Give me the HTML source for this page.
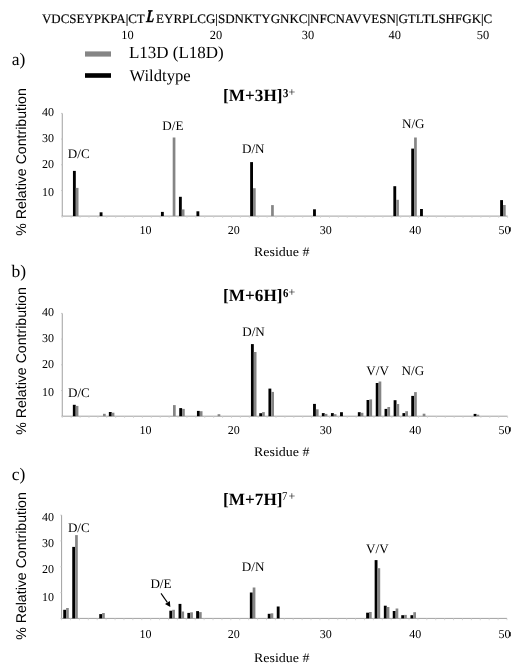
<!DOCTYPE html>
<html><head><meta charset="utf-8"><style>
html,body{margin:0;padding:0;background:#fff;}
body{width:526px;height:672px;position:relative;overflow:hidden;color:#000;text-rendering:geometricPrecision;}
</style></head><body>
<svg width="526" height="672" style="position:absolute;left:0;top:0">
<line x1="62.25" y1="113.4" x2="62.25" y2="216.1" stroke="#a0a0a0" stroke-width="1"/>
<line x1="61.05" y1="216.10" x2="62.25" y2="216.10" stroke="#c4c4c4" stroke-width="0.9"/>
<line x1="61.05" y1="190.43" x2="62.25" y2="190.43" stroke="#c4c4c4" stroke-width="0.9"/>
<line x1="61.05" y1="164.75" x2="62.25" y2="164.75" stroke="#c4c4c4" stroke-width="0.9"/>
<line x1="61.05" y1="139.07" x2="62.25" y2="139.07" stroke="#c4c4c4" stroke-width="0.9"/>
<line x1="61.05" y1="113.40" x2="62.25" y2="113.40" stroke="#c4c4c4" stroke-width="0.9"/>
<line x1="62.25" y1="216.1" x2="507.6" y2="216.1" stroke="#a0a0a0" stroke-width="1"/>
<line x1="62.25" y1="216.1" x2="62.25" y2="217.9" stroke="#d0d0d0" stroke-width="0.8"/>
<line x1="71.16" y1="216.1" x2="71.16" y2="217.9" stroke="#d0d0d0" stroke-width="0.8"/>
<line x1="80.06" y1="216.1" x2="80.06" y2="217.9" stroke="#d0d0d0" stroke-width="0.8"/>
<line x1="88.97" y1="216.1" x2="88.97" y2="217.9" stroke="#d0d0d0" stroke-width="0.8"/>
<line x1="97.88" y1="216.1" x2="97.88" y2="217.9" stroke="#d0d0d0" stroke-width="0.8"/>
<line x1="106.78" y1="216.1" x2="106.78" y2="217.9" stroke="#d0d0d0" stroke-width="0.8"/>
<line x1="115.69" y1="216.1" x2="115.69" y2="217.9" stroke="#d0d0d0" stroke-width="0.8"/>
<line x1="124.60" y1="216.1" x2="124.60" y2="217.9" stroke="#d0d0d0" stroke-width="0.8"/>
<line x1="133.51" y1="216.1" x2="133.51" y2="217.9" stroke="#d0d0d0" stroke-width="0.8"/>
<line x1="142.41" y1="216.1" x2="142.41" y2="217.9" stroke="#d0d0d0" stroke-width="0.8"/>
<line x1="151.32" y1="216.1" x2="151.32" y2="217.9" stroke="#d0d0d0" stroke-width="0.8"/>
<line x1="160.23" y1="216.1" x2="160.23" y2="217.9" stroke="#d0d0d0" stroke-width="0.8"/>
<line x1="169.13" y1="216.1" x2="169.13" y2="217.9" stroke="#d0d0d0" stroke-width="0.8"/>
<line x1="178.04" y1="216.1" x2="178.04" y2="217.9" stroke="#d0d0d0" stroke-width="0.8"/>
<line x1="186.95" y1="216.1" x2="186.95" y2="217.9" stroke="#d0d0d0" stroke-width="0.8"/>
<line x1="195.85" y1="216.1" x2="195.85" y2="217.9" stroke="#d0d0d0" stroke-width="0.8"/>
<line x1="204.76" y1="216.1" x2="204.76" y2="217.9" stroke="#d0d0d0" stroke-width="0.8"/>
<line x1="213.67" y1="216.1" x2="213.67" y2="217.9" stroke="#d0d0d0" stroke-width="0.8"/>
<line x1="222.58" y1="216.1" x2="222.58" y2="217.9" stroke="#d0d0d0" stroke-width="0.8"/>
<line x1="231.48" y1="216.1" x2="231.48" y2="217.9" stroke="#d0d0d0" stroke-width="0.8"/>
<line x1="240.39" y1="216.1" x2="240.39" y2="217.9" stroke="#d0d0d0" stroke-width="0.8"/>
<line x1="249.30" y1="216.1" x2="249.30" y2="217.9" stroke="#d0d0d0" stroke-width="0.8"/>
<line x1="258.20" y1="216.1" x2="258.20" y2="217.9" stroke="#d0d0d0" stroke-width="0.8"/>
<line x1="267.11" y1="216.1" x2="267.11" y2="217.9" stroke="#d0d0d0" stroke-width="0.8"/>
<line x1="276.02" y1="216.1" x2="276.02" y2="217.9" stroke="#d0d0d0" stroke-width="0.8"/>
<line x1="284.93" y1="216.1" x2="284.93" y2="217.9" stroke="#d0d0d0" stroke-width="0.8"/>
<line x1="293.83" y1="216.1" x2="293.83" y2="217.9" stroke="#d0d0d0" stroke-width="0.8"/>
<line x1="302.74" y1="216.1" x2="302.74" y2="217.9" stroke="#d0d0d0" stroke-width="0.8"/>
<line x1="311.65" y1="216.1" x2="311.65" y2="217.9" stroke="#d0d0d0" stroke-width="0.8"/>
<line x1="320.55" y1="216.1" x2="320.55" y2="217.9" stroke="#d0d0d0" stroke-width="0.8"/>
<line x1="329.46" y1="216.1" x2="329.46" y2="217.9" stroke="#d0d0d0" stroke-width="0.8"/>
<line x1="338.37" y1="216.1" x2="338.37" y2="217.9" stroke="#d0d0d0" stroke-width="0.8"/>
<line x1="347.27" y1="216.1" x2="347.27" y2="217.9" stroke="#d0d0d0" stroke-width="0.8"/>
<line x1="356.18" y1="216.1" x2="356.18" y2="217.9" stroke="#d0d0d0" stroke-width="0.8"/>
<line x1="365.09" y1="216.1" x2="365.09" y2="217.9" stroke="#d0d0d0" stroke-width="0.8"/>
<line x1="374.00" y1="216.1" x2="374.00" y2="217.9" stroke="#d0d0d0" stroke-width="0.8"/>
<line x1="382.90" y1="216.1" x2="382.90" y2="217.9" stroke="#d0d0d0" stroke-width="0.8"/>
<line x1="391.81" y1="216.1" x2="391.81" y2="217.9" stroke="#d0d0d0" stroke-width="0.8"/>
<line x1="400.72" y1="216.1" x2="400.72" y2="217.9" stroke="#d0d0d0" stroke-width="0.8"/>
<line x1="409.62" y1="216.1" x2="409.62" y2="217.9" stroke="#d0d0d0" stroke-width="0.8"/>
<line x1="418.53" y1="216.1" x2="418.53" y2="217.9" stroke="#d0d0d0" stroke-width="0.8"/>
<line x1="427.44" y1="216.1" x2="427.44" y2="217.9" stroke="#d0d0d0" stroke-width="0.8"/>
<line x1="436.34" y1="216.1" x2="436.34" y2="217.9" stroke="#d0d0d0" stroke-width="0.8"/>
<line x1="445.25" y1="216.1" x2="445.25" y2="217.9" stroke="#d0d0d0" stroke-width="0.8"/>
<line x1="454.16" y1="216.1" x2="454.16" y2="217.9" stroke="#d0d0d0" stroke-width="0.8"/>
<line x1="463.06" y1="216.1" x2="463.06" y2="217.9" stroke="#d0d0d0" stroke-width="0.8"/>
<line x1="471.97" y1="216.1" x2="471.97" y2="217.9" stroke="#d0d0d0" stroke-width="0.8"/>
<line x1="480.88" y1="216.1" x2="480.88" y2="217.9" stroke="#d0d0d0" stroke-width="0.8"/>
<line x1="489.79" y1="216.1" x2="489.79" y2="217.9" stroke="#d0d0d0" stroke-width="0.8"/>
<line x1="498.69" y1="216.1" x2="498.69" y2="217.9" stroke="#d0d0d0" stroke-width="0.8"/>
<line x1="507.60" y1="216.1" x2="507.60" y2="217.9" stroke="#d0d0d0" stroke-width="0.8"/>
<rect x="72.95" y="170.90" width="2.85" height="45.20" fill="#000"/>
<rect x="75.80" y="187.90" width="2.7" height="28.20" fill="#858585"/>
<rect x="99.65" y="212.30" width="2.85" height="3.80" fill="#000"/>
<rect x="160.95" y="211.90" width="2.85" height="4.20" fill="#000"/>
<rect x="172.70" y="137.50" width="2.7" height="78.60" fill="#858585"/>
<rect x="178.95" y="196.80" width="2.85" height="19.30" fill="#000"/>
<rect x="181.80" y="209.40" width="2.7" height="6.70" fill="#858585"/>
<rect x="196.45" y="211.30" width="2.85" height="4.80" fill="#000"/>
<rect x="250.15" y="162.10" width="2.85" height="54.00" fill="#000"/>
<rect x="253.00" y="188.20" width="2.7" height="27.90" fill="#858585"/>
<rect x="271.10" y="205.10" width="2.7" height="11.00" fill="#858585"/>
<rect x="313.05" y="209.30" width="2.85" height="6.80" fill="#000"/>
<rect x="393.35" y="186.20" width="2.85" height="29.90" fill="#000"/>
<rect x="396.20" y="199.80" width="2.7" height="16.30" fill="#858585"/>
<rect x="411.25" y="148.60" width="2.85" height="67.50" fill="#000"/>
<rect x="414.10" y="137.50" width="2.7" height="78.60" fill="#858585"/>
<rect x="420.05" y="209.00" width="2.85" height="7.10" fill="#000"/>
<rect x="500.15" y="200.10" width="2.85" height="16.00" fill="#000"/>
<rect x="503.00" y="205.00" width="2.7" height="11.10" fill="#858585"/>
<line x1="62.25" y1="313.4" x2="62.25" y2="416.2" stroke="#a0a0a0" stroke-width="1"/>
<line x1="61.05" y1="416.20" x2="62.25" y2="416.20" stroke="#c4c4c4" stroke-width="0.9"/>
<line x1="61.05" y1="390.50" x2="62.25" y2="390.50" stroke="#c4c4c4" stroke-width="0.9"/>
<line x1="61.05" y1="364.80" x2="62.25" y2="364.80" stroke="#c4c4c4" stroke-width="0.9"/>
<line x1="61.05" y1="339.10" x2="62.25" y2="339.10" stroke="#c4c4c4" stroke-width="0.9"/>
<line x1="61.05" y1="313.40" x2="62.25" y2="313.40" stroke="#c4c4c4" stroke-width="0.9"/>
<line x1="62.25" y1="416.2" x2="507.6" y2="416.2" stroke="#a0a0a0" stroke-width="1"/>
<line x1="62.25" y1="416.2" x2="62.25" y2="418.0" stroke="#d0d0d0" stroke-width="0.8"/>
<line x1="71.16" y1="416.2" x2="71.16" y2="418.0" stroke="#d0d0d0" stroke-width="0.8"/>
<line x1="80.06" y1="416.2" x2="80.06" y2="418.0" stroke="#d0d0d0" stroke-width="0.8"/>
<line x1="88.97" y1="416.2" x2="88.97" y2="418.0" stroke="#d0d0d0" stroke-width="0.8"/>
<line x1="97.88" y1="416.2" x2="97.88" y2="418.0" stroke="#d0d0d0" stroke-width="0.8"/>
<line x1="106.78" y1="416.2" x2="106.78" y2="418.0" stroke="#d0d0d0" stroke-width="0.8"/>
<line x1="115.69" y1="416.2" x2="115.69" y2="418.0" stroke="#d0d0d0" stroke-width="0.8"/>
<line x1="124.60" y1="416.2" x2="124.60" y2="418.0" stroke="#d0d0d0" stroke-width="0.8"/>
<line x1="133.51" y1="416.2" x2="133.51" y2="418.0" stroke="#d0d0d0" stroke-width="0.8"/>
<line x1="142.41" y1="416.2" x2="142.41" y2="418.0" stroke="#d0d0d0" stroke-width="0.8"/>
<line x1="151.32" y1="416.2" x2="151.32" y2="418.0" stroke="#d0d0d0" stroke-width="0.8"/>
<line x1="160.23" y1="416.2" x2="160.23" y2="418.0" stroke="#d0d0d0" stroke-width="0.8"/>
<line x1="169.13" y1="416.2" x2="169.13" y2="418.0" stroke="#d0d0d0" stroke-width="0.8"/>
<line x1="178.04" y1="416.2" x2="178.04" y2="418.0" stroke="#d0d0d0" stroke-width="0.8"/>
<line x1="186.95" y1="416.2" x2="186.95" y2="418.0" stroke="#d0d0d0" stroke-width="0.8"/>
<line x1="195.85" y1="416.2" x2="195.85" y2="418.0" stroke="#d0d0d0" stroke-width="0.8"/>
<line x1="204.76" y1="416.2" x2="204.76" y2="418.0" stroke="#d0d0d0" stroke-width="0.8"/>
<line x1="213.67" y1="416.2" x2="213.67" y2="418.0" stroke="#d0d0d0" stroke-width="0.8"/>
<line x1="222.58" y1="416.2" x2="222.58" y2="418.0" stroke="#d0d0d0" stroke-width="0.8"/>
<line x1="231.48" y1="416.2" x2="231.48" y2="418.0" stroke="#d0d0d0" stroke-width="0.8"/>
<line x1="240.39" y1="416.2" x2="240.39" y2="418.0" stroke="#d0d0d0" stroke-width="0.8"/>
<line x1="249.30" y1="416.2" x2="249.30" y2="418.0" stroke="#d0d0d0" stroke-width="0.8"/>
<line x1="258.20" y1="416.2" x2="258.20" y2="418.0" stroke="#d0d0d0" stroke-width="0.8"/>
<line x1="267.11" y1="416.2" x2="267.11" y2="418.0" stroke="#d0d0d0" stroke-width="0.8"/>
<line x1="276.02" y1="416.2" x2="276.02" y2="418.0" stroke="#d0d0d0" stroke-width="0.8"/>
<line x1="284.93" y1="416.2" x2="284.93" y2="418.0" stroke="#d0d0d0" stroke-width="0.8"/>
<line x1="293.83" y1="416.2" x2="293.83" y2="418.0" stroke="#d0d0d0" stroke-width="0.8"/>
<line x1="302.74" y1="416.2" x2="302.74" y2="418.0" stroke="#d0d0d0" stroke-width="0.8"/>
<line x1="311.65" y1="416.2" x2="311.65" y2="418.0" stroke="#d0d0d0" stroke-width="0.8"/>
<line x1="320.55" y1="416.2" x2="320.55" y2="418.0" stroke="#d0d0d0" stroke-width="0.8"/>
<line x1="329.46" y1="416.2" x2="329.46" y2="418.0" stroke="#d0d0d0" stroke-width="0.8"/>
<line x1="338.37" y1="416.2" x2="338.37" y2="418.0" stroke="#d0d0d0" stroke-width="0.8"/>
<line x1="347.27" y1="416.2" x2="347.27" y2="418.0" stroke="#d0d0d0" stroke-width="0.8"/>
<line x1="356.18" y1="416.2" x2="356.18" y2="418.0" stroke="#d0d0d0" stroke-width="0.8"/>
<line x1="365.09" y1="416.2" x2="365.09" y2="418.0" stroke="#d0d0d0" stroke-width="0.8"/>
<line x1="374.00" y1="416.2" x2="374.00" y2="418.0" stroke="#d0d0d0" stroke-width="0.8"/>
<line x1="382.90" y1="416.2" x2="382.90" y2="418.0" stroke="#d0d0d0" stroke-width="0.8"/>
<line x1="391.81" y1="416.2" x2="391.81" y2="418.0" stroke="#d0d0d0" stroke-width="0.8"/>
<line x1="400.72" y1="416.2" x2="400.72" y2="418.0" stroke="#d0d0d0" stroke-width="0.8"/>
<line x1="409.62" y1="416.2" x2="409.62" y2="418.0" stroke="#d0d0d0" stroke-width="0.8"/>
<line x1="418.53" y1="416.2" x2="418.53" y2="418.0" stroke="#d0d0d0" stroke-width="0.8"/>
<line x1="427.44" y1="416.2" x2="427.44" y2="418.0" stroke="#d0d0d0" stroke-width="0.8"/>
<line x1="436.34" y1="416.2" x2="436.34" y2="418.0" stroke="#d0d0d0" stroke-width="0.8"/>
<line x1="445.25" y1="416.2" x2="445.25" y2="418.0" stroke="#d0d0d0" stroke-width="0.8"/>
<line x1="454.16" y1="416.2" x2="454.16" y2="418.0" stroke="#d0d0d0" stroke-width="0.8"/>
<line x1="463.06" y1="416.2" x2="463.06" y2="418.0" stroke="#d0d0d0" stroke-width="0.8"/>
<line x1="471.97" y1="416.2" x2="471.97" y2="418.0" stroke="#d0d0d0" stroke-width="0.8"/>
<line x1="480.88" y1="416.2" x2="480.88" y2="418.0" stroke="#d0d0d0" stroke-width="0.8"/>
<line x1="489.79" y1="416.2" x2="489.79" y2="418.0" stroke="#d0d0d0" stroke-width="0.8"/>
<line x1="498.69" y1="416.2" x2="498.69" y2="418.0" stroke="#d0d0d0" stroke-width="0.8"/>
<line x1="507.60" y1="416.2" x2="507.60" y2="418.0" stroke="#d0d0d0" stroke-width="0.8"/>
<rect x="72.85" y="404.80" width="2.85" height="11.40" fill="#000"/>
<rect x="75.70" y="405.90" width="2.7" height="10.30" fill="#858585"/>
<rect x="103.00" y="413.80" width="2.7" height="2.40" fill="#858585"/>
<rect x="108.85" y="412.00" width="2.85" height="4.20" fill="#000"/>
<rect x="111.70" y="412.70" width="2.7" height="3.50" fill="#858585"/>
<rect x="173.00" y="405.10" width="2.7" height="11.10" fill="#858585"/>
<rect x="179.25" y="408.10" width="2.85" height="8.10" fill="#000"/>
<rect x="182.10" y="408.90" width="2.7" height="7.30" fill="#858585"/>
<rect x="196.95" y="410.90" width="2.85" height="5.30" fill="#000"/>
<rect x="199.80" y="411.20" width="2.7" height="5.00" fill="#858585"/>
<rect x="217.60" y="414.20" width="2.7" height="2.00" fill="#858585"/>
<rect x="250.95" y="344.10" width="2.85" height="72.10" fill="#000"/>
<rect x="253.80" y="352.00" width="2.7" height="64.20" fill="#858585"/>
<rect x="259.25" y="413.20" width="2.85" height="3.00" fill="#000"/>
<rect x="262.10" y="412.10" width="2.7" height="4.10" fill="#858585"/>
<rect x="268.45" y="388.60" width="2.85" height="27.60" fill="#000"/>
<rect x="271.30" y="391.90" width="2.7" height="24.30" fill="#858585"/>
<rect x="313.05" y="403.90" width="2.85" height="12.30" fill="#000"/>
<rect x="315.90" y="409.30" width="2.7" height="6.90" fill="#858585"/>
<rect x="321.85" y="413.10" width="2.85" height="3.10" fill="#000"/>
<rect x="324.70" y="413.90" width="2.7" height="2.30" fill="#858585"/>
<rect x="330.95" y="413.10" width="2.85" height="3.10" fill="#000"/>
<rect x="333.80" y="414.20" width="2.7" height="2.00" fill="#858585"/>
<rect x="340.05" y="412.20" width="2.85" height="4.00" fill="#000"/>
<rect x="357.85" y="412.20" width="2.85" height="4.00" fill="#000"/>
<rect x="360.70" y="412.80" width="2.7" height="3.40" fill="#858585"/>
<rect x="366.55" y="400.00" width="2.85" height="16.20" fill="#000"/>
<rect x="369.40" y="399.40" width="2.7" height="16.80" fill="#858585"/>
<rect x="375.75" y="383.00" width="2.85" height="33.20" fill="#000"/>
<rect x="378.60" y="381.50" width="2.7" height="34.70" fill="#858585"/>
<rect x="384.55" y="408.90" width="2.85" height="7.30" fill="#000"/>
<rect x="387.40" y="407.00" width="2.7" height="9.20" fill="#858585"/>
<rect x="393.65" y="400.20" width="2.85" height="16.00" fill="#000"/>
<rect x="396.50" y="404.00" width="2.7" height="12.20" fill="#858585"/>
<rect x="402.45" y="413.10" width="2.85" height="3.10" fill="#000"/>
<rect x="405.30" y="411.20" width="2.7" height="5.00" fill="#858585"/>
<rect x="411.25" y="395.90" width="2.85" height="20.30" fill="#000"/>
<rect x="414.10" y="392.10" width="2.7" height="24.10" fill="#858585"/>
<rect x="422.70" y="413.70" width="2.7" height="2.50" fill="#858585"/>
<rect x="473.65" y="413.90" width="2.85" height="2.30" fill="#000"/>
<rect x="476.50" y="414.70" width="2.7" height="1.50" fill="#858585"/>
<line x1="61.6" y1="515.1" x2="61.6" y2="618.4" stroke="#a0a0a0" stroke-width="1"/>
<line x1="60.4" y1="618.40" x2="61.6" y2="618.40" stroke="#c4c4c4" stroke-width="0.9"/>
<line x1="60.4" y1="592.58" x2="61.6" y2="592.58" stroke="#c4c4c4" stroke-width="0.9"/>
<line x1="60.4" y1="566.75" x2="61.6" y2="566.75" stroke="#c4c4c4" stroke-width="0.9"/>
<line x1="60.4" y1="540.92" x2="61.6" y2="540.92" stroke="#c4c4c4" stroke-width="0.9"/>
<line x1="60.4" y1="515.10" x2="61.6" y2="515.10" stroke="#c4c4c4" stroke-width="0.9"/>
<line x1="61.6" y1="618.4" x2="507.0" y2="618.4" stroke="#a0a0a0" stroke-width="1"/>
<line x1="61.60" y1="618.4" x2="61.60" y2="620.1999999999999" stroke="#d0d0d0" stroke-width="0.8"/>
<line x1="70.51" y1="618.4" x2="70.51" y2="620.1999999999999" stroke="#d0d0d0" stroke-width="0.8"/>
<line x1="79.42" y1="618.4" x2="79.42" y2="620.1999999999999" stroke="#d0d0d0" stroke-width="0.8"/>
<line x1="88.32" y1="618.4" x2="88.32" y2="620.1999999999999" stroke="#d0d0d0" stroke-width="0.8"/>
<line x1="97.23" y1="618.4" x2="97.23" y2="620.1999999999999" stroke="#d0d0d0" stroke-width="0.8"/>
<line x1="106.14" y1="618.4" x2="106.14" y2="620.1999999999999" stroke="#d0d0d0" stroke-width="0.8"/>
<line x1="115.05" y1="618.4" x2="115.05" y2="620.1999999999999" stroke="#d0d0d0" stroke-width="0.8"/>
<line x1="123.96" y1="618.4" x2="123.96" y2="620.1999999999999" stroke="#d0d0d0" stroke-width="0.8"/>
<line x1="132.86" y1="618.4" x2="132.86" y2="620.1999999999999" stroke="#d0d0d0" stroke-width="0.8"/>
<line x1="141.77" y1="618.4" x2="141.77" y2="620.1999999999999" stroke="#d0d0d0" stroke-width="0.8"/>
<line x1="150.68" y1="618.4" x2="150.68" y2="620.1999999999999" stroke="#d0d0d0" stroke-width="0.8"/>
<line x1="159.59" y1="618.4" x2="159.59" y2="620.1999999999999" stroke="#d0d0d0" stroke-width="0.8"/>
<line x1="168.50" y1="618.4" x2="168.50" y2="620.1999999999999" stroke="#d0d0d0" stroke-width="0.8"/>
<line x1="177.40" y1="618.4" x2="177.40" y2="620.1999999999999" stroke="#d0d0d0" stroke-width="0.8"/>
<line x1="186.31" y1="618.4" x2="186.31" y2="620.1999999999999" stroke="#d0d0d0" stroke-width="0.8"/>
<line x1="195.22" y1="618.4" x2="195.22" y2="620.1999999999999" stroke="#d0d0d0" stroke-width="0.8"/>
<line x1="204.13" y1="618.4" x2="204.13" y2="620.1999999999999" stroke="#d0d0d0" stroke-width="0.8"/>
<line x1="213.04" y1="618.4" x2="213.04" y2="620.1999999999999" stroke="#d0d0d0" stroke-width="0.8"/>
<line x1="221.94" y1="618.4" x2="221.94" y2="620.1999999999999" stroke="#d0d0d0" stroke-width="0.8"/>
<line x1="230.85" y1="618.4" x2="230.85" y2="620.1999999999999" stroke="#d0d0d0" stroke-width="0.8"/>
<line x1="239.76" y1="618.4" x2="239.76" y2="620.1999999999999" stroke="#d0d0d0" stroke-width="0.8"/>
<line x1="248.67" y1="618.4" x2="248.67" y2="620.1999999999999" stroke="#d0d0d0" stroke-width="0.8"/>
<line x1="257.58" y1="618.4" x2="257.58" y2="620.1999999999999" stroke="#d0d0d0" stroke-width="0.8"/>
<line x1="266.48" y1="618.4" x2="266.48" y2="620.1999999999999" stroke="#d0d0d0" stroke-width="0.8"/>
<line x1="275.39" y1="618.4" x2="275.39" y2="620.1999999999999" stroke="#d0d0d0" stroke-width="0.8"/>
<line x1="284.30" y1="618.4" x2="284.30" y2="620.1999999999999" stroke="#d0d0d0" stroke-width="0.8"/>
<line x1="293.21" y1="618.4" x2="293.21" y2="620.1999999999999" stroke="#d0d0d0" stroke-width="0.8"/>
<line x1="302.12" y1="618.4" x2="302.12" y2="620.1999999999999" stroke="#d0d0d0" stroke-width="0.8"/>
<line x1="311.02" y1="618.4" x2="311.02" y2="620.1999999999999" stroke="#d0d0d0" stroke-width="0.8"/>
<line x1="319.93" y1="618.4" x2="319.93" y2="620.1999999999999" stroke="#d0d0d0" stroke-width="0.8"/>
<line x1="328.84" y1="618.4" x2="328.84" y2="620.1999999999999" stroke="#d0d0d0" stroke-width="0.8"/>
<line x1="337.75" y1="618.4" x2="337.75" y2="620.1999999999999" stroke="#d0d0d0" stroke-width="0.8"/>
<line x1="346.66" y1="618.4" x2="346.66" y2="620.1999999999999" stroke="#d0d0d0" stroke-width="0.8"/>
<line x1="355.56" y1="618.4" x2="355.56" y2="620.1999999999999" stroke="#d0d0d0" stroke-width="0.8"/>
<line x1="364.47" y1="618.4" x2="364.47" y2="620.1999999999999" stroke="#d0d0d0" stroke-width="0.8"/>
<line x1="373.38" y1="618.4" x2="373.38" y2="620.1999999999999" stroke="#d0d0d0" stroke-width="0.8"/>
<line x1="382.29" y1="618.4" x2="382.29" y2="620.1999999999999" stroke="#d0d0d0" stroke-width="0.8"/>
<line x1="391.20" y1="618.4" x2="391.20" y2="620.1999999999999" stroke="#d0d0d0" stroke-width="0.8"/>
<line x1="400.10" y1="618.4" x2="400.10" y2="620.1999999999999" stroke="#d0d0d0" stroke-width="0.8"/>
<line x1="409.01" y1="618.4" x2="409.01" y2="620.1999999999999" stroke="#d0d0d0" stroke-width="0.8"/>
<line x1="417.92" y1="618.4" x2="417.92" y2="620.1999999999999" stroke="#d0d0d0" stroke-width="0.8"/>
<line x1="426.83" y1="618.4" x2="426.83" y2="620.1999999999999" stroke="#d0d0d0" stroke-width="0.8"/>
<line x1="435.74" y1="618.4" x2="435.74" y2="620.1999999999999" stroke="#d0d0d0" stroke-width="0.8"/>
<line x1="444.64" y1="618.4" x2="444.64" y2="620.1999999999999" stroke="#d0d0d0" stroke-width="0.8"/>
<line x1="453.55" y1="618.4" x2="453.55" y2="620.1999999999999" stroke="#d0d0d0" stroke-width="0.8"/>
<line x1="462.46" y1="618.4" x2="462.46" y2="620.1999999999999" stroke="#d0d0d0" stroke-width="0.8"/>
<line x1="471.37" y1="618.4" x2="471.37" y2="620.1999999999999" stroke="#d0d0d0" stroke-width="0.8"/>
<line x1="480.28" y1="618.4" x2="480.28" y2="620.1999999999999" stroke="#d0d0d0" stroke-width="0.8"/>
<line x1="489.18" y1="618.4" x2="489.18" y2="620.1999999999999" stroke="#d0d0d0" stroke-width="0.8"/>
<line x1="498.09" y1="618.4" x2="498.09" y2="620.1999999999999" stroke="#d0d0d0" stroke-width="0.8"/>
<line x1="507.00" y1="618.4" x2="507.00" y2="620.1999999999999" stroke="#d0d0d0" stroke-width="0.8"/>
<rect x="63.25" y="609.80" width="2.85" height="8.60" fill="#000"/>
<rect x="66.10" y="608.00" width="2.7" height="10.40" fill="#858585"/>
<rect x="72.25" y="546.90" width="2.85" height="71.50" fill="#000"/>
<rect x="75.10" y="535.10" width="2.7" height="83.30" fill="#858585"/>
<rect x="99.25" y="614.10" width="2.85" height="4.30" fill="#000"/>
<rect x="102.10" y="613.00" width="2.7" height="5.40" fill="#858585"/>
<rect x="169.35" y="610.70" width="2.85" height="7.70" fill="#000"/>
<rect x="172.20" y="609.80" width="2.7" height="8.60" fill="#858585"/>
<rect x="178.55" y="603.90" width="2.85" height="14.50" fill="#000"/>
<rect x="181.40" y="611.50" width="2.7" height="6.90" fill="#858585"/>
<rect x="187.35" y="612.90" width="2.85" height="5.50" fill="#000"/>
<rect x="190.20" y="612.30" width="2.7" height="6.10" fill="#858585"/>
<rect x="196.15" y="611.10" width="2.85" height="7.30" fill="#000"/>
<rect x="199.00" y="612.10" width="2.7" height="6.30" fill="#858585"/>
<rect x="249.85" y="592.50" width="2.85" height="25.90" fill="#000"/>
<rect x="252.70" y="587.50" width="2.7" height="30.90" fill="#858585"/>
<rect x="267.75" y="613.80" width="2.85" height="4.60" fill="#000"/>
<rect x="270.60" y="613.30" width="2.7" height="5.10" fill="#858585"/>
<rect x="276.75" y="606.50" width="2.85" height="11.90" fill="#000"/>
<rect x="366.15" y="612.70" width="2.85" height="5.70" fill="#000"/>
<rect x="369.00" y="612.00" width="2.7" height="6.40" fill="#858585"/>
<rect x="374.65" y="560.10" width="2.85" height="58.30" fill="#000"/>
<rect x="377.50" y="568.20" width="2.7" height="50.20" fill="#858585"/>
<rect x="383.85" y="605.70" width="2.85" height="12.70" fill="#000"/>
<rect x="386.70" y="607.00" width="2.7" height="11.40" fill="#858585"/>
<rect x="392.75" y="611.00" width="2.85" height="7.40" fill="#000"/>
<rect x="395.60" y="608.50" width="2.7" height="9.90" fill="#858585"/>
<rect x="401.25" y="615.20" width="2.85" height="3.20" fill="#000"/>
<rect x="404.10" y="614.90" width="2.7" height="3.50" fill="#858585"/>
<rect x="410.45" y="615.20" width="2.85" height="3.20" fill="#000"/>
<rect x="413.30" y="612.20" width="2.7" height="6.20" fill="#858585"/>
<rect x="85" y="51.4" width="26" height="5.2" fill="#858585"/>
<rect x="85" y="73.2" width="26" height="4.6" fill="#000"/>
<line x1="161.0" y1="593.4" x2="167.3" y2="602.4" stroke="#000" stroke-width="1.1"/>
<polygon points="165.0,603.9 169.9,601.1 170.3,607.0" fill="#000"/>
<rect x="509.2" y="227.30" width="1.7" height="4.2" fill="#333"/>
<rect x="509.2" y="427.30" width="1.7" height="4.2" fill="#333"/>
<rect x="509.2" y="632.10" width="1.7" height="4.2" fill="#333"/>
</svg>
<div style="position:absolute;left:0;top:0;width:526px;height:672px;will-change:transform">
<div style="position:absolute;left:42.37px;top:11.81px;font:normal normal 13.00px/1 'Liberation Serif', serif;white-space:nowrap;transform:scale(0.9950,1.0000);transform-origin:0 10.888px;-webkit-text-stroke:0.2px #000;">VDCSEYPKPA|CT</div>
<div style="position:absolute;left:146.13px;top:7.63px;font:italic bold 17.4px/1 'Liberation Serif', serif;white-space:nowrap;-webkit-text-stroke:0.55px #000;transform:scale(0.74,1) skewX(-6deg);transform-origin:0 14.572px">L</div>
<div style="position:absolute;left:156.11px;top:11.81px;font:normal normal 13.00px/1 'Liberation Serif', serif;white-space:nowrap;-webkit-text-stroke:0.2px #000;">EYRPLCG|SDNKTYGNKC|NFCNAVVESN|GTLTLSHFGK|C</div>
<div style="position:absolute;left:121.28px;top:28.82px;font:normal normal 12.40px/1 'Liberation Serif', serif;white-space:nowrap;">10</div>
<div style="position:absolute;left:209.85px;top:28.82px;font:normal normal 12.40px/1 'Liberation Serif', serif;white-space:nowrap;">20</div>
<div style="position:absolute;left:301.75px;top:28.82px;font:normal normal 12.40px/1 'Liberation Serif', serif;white-space:nowrap;">30</div>
<div style="position:absolute;left:388.45px;top:28.82px;font:normal normal 12.40px/1 'Liberation Serif', serif;white-space:nowrap;">40</div>
<div style="position:absolute;left:476.76px;top:28.82px;font:normal normal 12.40px/1 'Liberation Serif', serif;white-space:nowrap;">50</div>
<div style="position:absolute;left:11.80px;top:51.34px;font:normal normal 17.50px/1 'Liberation Serif', serif;white-space:nowrap;">a)</div>
<div style="position:absolute;left:11.40px;top:262.54px;font:normal normal 17.50px/1 'Liberation Serif', serif;white-space:nowrap;">b)</div>
<div style="position:absolute;left:11.80px;top:466.34px;font:normal normal 17.50px/1 'Liberation Serif', serif;white-space:nowrap;">c)</div>
<div style="position:absolute;left:128.89px;top:44.16px;font:normal normal 17.00px/1 'Liberation Serif', serif;white-space:nowrap;">L13D (L18D)</div>
<div style="position:absolute;left:129.50px;top:68.40px;font:normal normal 16.60px/1 'Liberation Serif', serif;white-space:nowrap;">Wildtype</div>
<div style="position:absolute;left:223.10px;top:86.59px;font:normal bold 17.20px/1 'Liberation Serif', serif;white-space:nowrap;">[M+3H]</div>
<div style="position:absolute;left:282.77px;top:86.55px;font:normal bold 12.00px/1 'Liberation Serif', serif;white-space:nowrap;transform:scale(0.9000,1.0000);transform-origin:0 10.050px;">3</div>
<div style="position:absolute;left:288.50px;top:86.35px;font:normal normal 12.00px/1 'Liberation Serif', serif;white-space:nowrap;">+</div>
<div style="position:absolute;left:223.10px;top:286.60px;font:normal bold 17.20px/1 'Liberation Serif', serif;white-space:nowrap;">[M+6H]</div>
<div style="position:absolute;left:282.77px;top:286.55px;font:normal bold 12.00px/1 'Liberation Serif', serif;white-space:nowrap;transform:scale(0.9000,1.0000);transform-origin:0 10.050px;">6</div>
<div style="position:absolute;left:288.50px;top:286.35px;font:normal normal 12.00px/1 'Liberation Serif', serif;white-space:nowrap;">+</div>
<div style="position:absolute;left:223.10px;top:490.50px;font:normal bold 17.20px/1 'Liberation Serif', serif;white-space:nowrap;">[M+7H]</div>
<div style="position:absolute;left:282.44px;top:490.45px;font:normal normal 12.00px/1 'Liberation Serif', serif;white-space:nowrap;transform:scale(0.9000,1.0000);transform-origin:0 10.050px;">7</div>
<div style="position:absolute;left:288.50px;top:490.25px;font:normal normal 12.00px/1 'Liberation Serif', serif;white-space:nowrap;">+</div>
<div style="position:absolute;left:21px;top:162.15px;width:0;height:0"><div style="position:absolute;left:0;top:0;transform:translate(-50%,-50%) rotate(-90deg);font:14.13px/1 'Liberation Sans', sans-serif;white-space:nowrap;-webkit-text-stroke:0">% Relative Contribution</div></div>
<div style="position:absolute;left:21px;top:360.95px;width:0;height:0"><div style="position:absolute;left:0;top:0;transform:translate(-50%,-50%) rotate(-90deg);font:14.13px/1 'Liberation Sans', sans-serif;white-space:nowrap;-webkit-text-stroke:0">% Relative Contribution</div></div>
<div style="position:absolute;left:21px;top:565.95px;width:0;height:0"><div style="position:absolute;left:0;top:0;transform:translate(-50%,-50%) rotate(-90deg);font:14.13px/1 'Liberation Sans', sans-serif;white-space:nowrap;-webkit-text-stroke:0">% Relative Contribution</div></div>
<div style="position:absolute;left:42.08px;top:105.55px;font:normal normal 12.00px/1 'Liberation Serif', serif;white-space:nowrap;">40</div>
<div style="position:absolute;left:42.08px;top:131.95px;font:normal normal 12.00px/1 'Liberation Serif', serif;white-space:nowrap;">30</div>
<div style="position:absolute;left:42.08px;top:157.65px;font:normal normal 12.00px/1 'Liberation Serif', serif;white-space:nowrap;">20</div>
<div style="position:absolute;left:42.08px;top:185.95px;font:normal normal 12.00px/1 'Liberation Serif', serif;white-space:nowrap;">10</div>
<div style="position:absolute;left:42.08px;top:305.55px;font:normal normal 12.00px/1 'Liberation Serif', serif;white-space:nowrap;">40</div>
<div style="position:absolute;left:42.08px;top:331.95px;font:normal normal 12.00px/1 'Liberation Serif', serif;white-space:nowrap;">30</div>
<div style="position:absolute;left:42.08px;top:357.65px;font:normal normal 12.00px/1 'Liberation Serif', serif;white-space:nowrap;">20</div>
<div style="position:absolute;left:42.08px;top:385.95px;font:normal normal 12.00px/1 'Liberation Serif', serif;white-space:nowrap;">10</div>
<div style="position:absolute;left:42.08px;top:510.55px;font:normal normal 12.00px/1 'Liberation Serif', serif;white-space:nowrap;">40</div>
<div style="position:absolute;left:42.08px;top:536.95px;font:normal normal 12.00px/1 'Liberation Serif', serif;white-space:nowrap;">30</div>
<div style="position:absolute;left:42.08px;top:562.65px;font:normal normal 12.00px/1 'Liberation Serif', serif;white-space:nowrap;">20</div>
<div style="position:absolute;left:42.08px;top:590.95px;font:normal normal 12.00px/1 'Liberation Serif', serif;white-space:nowrap;">10</div>
<div style="position:absolute;left:139.50px;top:223.65px;font:normal normal 12.00px/1 'Liberation Serif', serif;white-space:nowrap;">10</div>
<div style="position:absolute;left:227.72px;top:223.65px;font:normal normal 12.00px/1 'Liberation Serif', serif;white-space:nowrap;">20</div>
<div style="position:absolute;left:319.87px;top:223.65px;font:normal normal 12.00px/1 'Liberation Serif', serif;white-space:nowrap;">30</div>
<div style="position:absolute;left:409.22px;top:223.65px;font:normal normal 12.00px/1 'Liberation Serif', serif;white-space:nowrap;">40</div>
<div style="position:absolute;left:490px;top:215.00px;width:20px;height:25px;overflow:hidden"><div style="position:absolute;left:8.48px;top:8.65px;font:normal normal 12.00px/1 'Liberation Serif', serif;white-space:nowrap;">50</div></div>
<div style="position:absolute;left:139.50px;top:423.65px;font:normal normal 12.00px/1 'Liberation Serif', serif;white-space:nowrap;">10</div>
<div style="position:absolute;left:227.72px;top:423.65px;font:normal normal 12.00px/1 'Liberation Serif', serif;white-space:nowrap;">20</div>
<div style="position:absolute;left:319.87px;top:423.65px;font:normal normal 12.00px/1 'Liberation Serif', serif;white-space:nowrap;">30</div>
<div style="position:absolute;left:409.22px;top:423.65px;font:normal normal 12.00px/1 'Liberation Serif', serif;white-space:nowrap;">40</div>
<div style="position:absolute;left:490px;top:415.00px;width:20px;height:25px;overflow:hidden"><div style="position:absolute;left:8.48px;top:8.65px;font:normal normal 12.00px/1 'Liberation Serif', serif;white-space:nowrap;">50</div></div>
<div style="position:absolute;left:139.50px;top:628.45px;font:normal normal 12.00px/1 'Liberation Serif', serif;white-space:nowrap;">10</div>
<div style="position:absolute;left:227.72px;top:628.45px;font:normal normal 12.00px/1 'Liberation Serif', serif;white-space:nowrap;">20</div>
<div style="position:absolute;left:319.87px;top:628.45px;font:normal normal 12.00px/1 'Liberation Serif', serif;white-space:nowrap;">30</div>
<div style="position:absolute;left:409.22px;top:628.45px;font:normal normal 12.00px/1 'Liberation Serif', serif;white-space:nowrap;">40</div>
<div style="position:absolute;left:490px;top:619.80px;width:20px;height:25px;overflow:hidden"><div style="position:absolute;left:8.48px;top:8.65px;font:normal normal 12.00px/1 'Liberation Serif', serif;white-space:nowrap;">50</div></div>
<div style="position:absolute;left:254.28px;top:245.31px;font:normal normal 13.00px/1 'Liberation Serif', serif;white-space:nowrap;transform:scale(1.0750,1.0000);transform-origin:0 10.888px;">Residue #</div>
<div style="position:absolute;left:254.28px;top:445.31px;font:normal normal 13.00px/1 'Liberation Serif', serif;white-space:nowrap;transform:scale(1.0750,1.0000);transform-origin:0 10.888px;">Residue #</div>
<div style="position:absolute;left:254.28px;top:651.11px;font:normal normal 13.00px/1 'Liberation Serif', serif;white-space:nowrap;transform:scale(1.0750,1.0000);transform-origin:0 10.888px;">Residue #</div>
<div style="position:absolute;left:67.81px;top:147.18px;font:normal normal 13.10px/1 'Liberation Serif', serif;white-space:nowrap;">D/C</div>
<div style="position:absolute;left:162.31px;top:118.98px;font:normal normal 13.10px/1 'Liberation Serif', serif;white-space:nowrap;">D/E</div>
<div style="position:absolute;left:242.01px;top:141.68px;font:normal normal 13.10px/1 'Liberation Serif', serif;white-space:nowrap;">D/N</div>
<div style="position:absolute;left:402.01px;top:117.18px;font:normal normal 13.10px/1 'Liberation Serif', serif;white-space:nowrap;">N/G</div>
<div style="position:absolute;left:68.01px;top:386.18px;font:normal normal 13.10px/1 'Liberation Serif', serif;white-space:nowrap;">D/C</div>
<div style="position:absolute;left:242.21px;top:324.88px;font:normal normal 13.10px/1 'Liberation Serif', serif;white-space:nowrap;">D/N</div>
<div style="position:absolute;left:366.37px;top:363.58px;font:normal normal 13.10px/1 'Liberation Serif', serif;white-space:nowrap;">V/V</div>
<div style="position:absolute;left:401.61px;top:363.78px;font:normal normal 13.10px/1 'Liberation Serif', serif;white-space:nowrap;">N/G</div>
<div style="position:absolute;left:67.91px;top:520.68px;font:normal normal 13.10px/1 'Liberation Serif', serif;white-space:nowrap;">D/C</div>
<div style="position:absolute;left:150.41px;top:576.88px;font:normal normal 13.10px/1 'Liberation Serif', serif;white-space:nowrap;">D/E</div>
<div style="position:absolute;left:241.81px;top:559.78px;font:normal normal 13.10px/1 'Liberation Serif', serif;white-space:nowrap;">D/N</div>
<div style="position:absolute;left:366.07px;top:542.08px;font:normal normal 13.10px/1 'Liberation Serif', serif;white-space:nowrap;">V/V</div>
</div>
</body></html>
